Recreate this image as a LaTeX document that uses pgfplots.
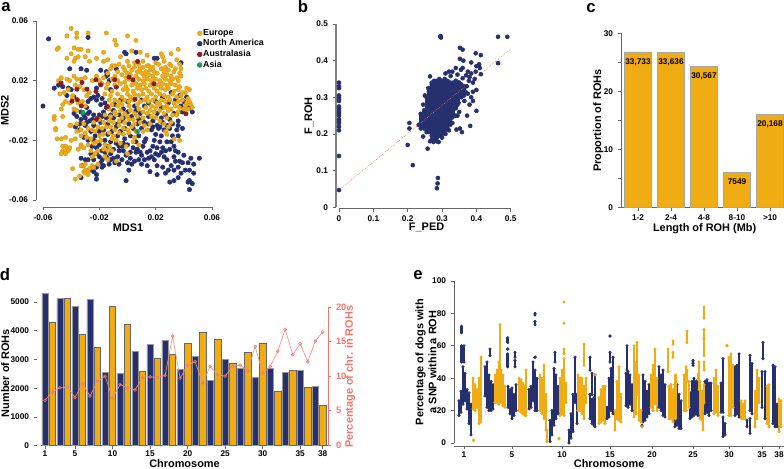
\documentclass[border=0pt]{standalone}
\usepackage{fontspec}
\setmainfont{Liberation Sans}
\usepackage{pgfplots}
\pgfplotsset{compat=1.18}
\usepackage{pgfplotstable}

\definecolor{navy}{HTML}{27306F}
\definecolor{gold}{HTML}{EFAC13}
\definecolor{salmon}{HTML}{F4746C}
\definecolor{wine}{HTML}{8E1B20}
\definecolor{leaf}{HTML}{1F9A55}
\definecolor{spine}{HTML}{666666}

\newcommand{\ticksz}{\bfseries\fontsize{6.2}{7}\selectfont}
\newcommand{\labsz}{\bfseries\fontsize{8.2}{9.6}\selectfont}

\pgfplotsset{
  panel/.style={
    scale only axis, clip=false,
    axis x line*=bottom, axis y line*=left,
    axis line style={spine, line width=.7pt},
    tick style={spine, line width=.6pt},
    tick align=outside, major tick length=2.5pt, minor tick length=2pt,
    tick label style={font=\ticksz, black},
    /pgf/number format/assume math mode=true,
    /pgf/number format/1000 sep={},
    xlabel style={font=\labsz, anchor=center},
    ylabel style={font=\labsz, anchor=center},
    xtick pos=lower, ytick pos=left,
    xticklabel style={yshift=0.5pt},
  },
  strand/.style={only marks, mark=*, mark size=.95pt, forget plot, #1, mark options={draw=#1, fill=#1},
    error bars/.cd, y dir=plus, y explicit, error mark=*,
    error mark options={draw=#1, fill=#1, mark size=.95pt},
    error bar style={draw=#1, line width=2pt}},
  blob/.style={only marks, mark=*, mark size=1.5pt, forget plot, #1, mark options={draw=#1, fill=#1},
    error bars/.cd, y dir=plus, y explicit, error mark=*,
    error mark options={draw=#1, fill=#1, mark size=1.5pt},
    error bar style={draw=#1, line width=2.7pt}},
}

% panel e: runs of SNPs read as position (along genome), lowest and highest %
\pgfplotstableread{
x lo hi
459 17 26
461 19 32
461.5 50 60
461.5 68 72
463 24 47
464 50 60
465 26 43
467 21 33
469 12 31
471 5 24
485 29 47
487 22 50
489 20 42
490 54 58
491 20 38
493 21 36
508 22 35
507.7 47 55
507.7 58 58
507.7 62 65
510 18 33
512 15 34
514 17 30
515 47 51
515 53 56
516 20 36
529 21 33
531 22 35
533 26 50
535 20 45
535 53 53
535 73 75
535 79 80
537 20 40
550 1 14
552 5 20
554 11 46
556 15 42
555 50 56
558 18 35
569 0 8
571 3 18
573 7 30
575 25 53
577 12 30
590 15 30
590 45 53
592 12 27
592 30 43
594 11 28
595 10 42
607 15 22
609 16 40
610 66 66
610 50 56
611 20 46
613 18 53
626 23 43
627 45 60
628 22 44
630 24 42
632 20 36
642 10 11
643 13 42
645 14 38
647 16 32
649 18 36
659 22 47
661 20 42
663 17 45
665 16 36
675 10 36
677 11 36
679 9 30
681 9 26
690 15 31
692 16 38
693 50 51
693 48 49
694 17 40
696 18 38
698 17 39
705 18 38
707 19 39
709 17 37
711 20 37
721 19 37
723 19 52
723 4 16
725 5 12
735 17 47
737 18 48
739 16 55
747 10 14
750 20 54
752 18 49
750 6 15
762 22 44
763 52 62
765 15 44
773 12 48
775 10 47
777 10 24
}\navystrands

\pgfplotstableread{
x lo hi
473 21 40
475 20 36
477 22 33
479 12 40
481 13 53
495 25 42
497 25 45
499 24 50
500 43 73
501 25 45
503 23 42
505 22 35
519 20 40
521 19 39
523 18 37
525 17 35
526 17 45
540 20 42
542 18 40
544 15 48
546 8 30
547 1 8
560 17 40
562 18 45
564 17 52
564 55 58
566 25 37
578 20 42
580 20 40
582 18 40
584 15 35
584 48 61
586 25 40
599 12 28
601 13 33
603 14 35
605 12 35
615 8 20
617 15 38
619 14 47
621 13 30
634 16 60
636 18 50
637 30 62
639 14 42
641 13 20
651 22 42
653 20 48
655 24 58
657 20 40
668 44 58
669 15 35
671 15 36
673 13 33
675.5 15 42
673 61 63
673 53 56
684 20 42
686 20 47
687 62 69
687 38 45
689 22 38
698.7 39 43
699 33 50
700 15 38
702 14 32
703 8 24
704 25 36
704 45 50
704 54 64
704 65 70
704 77 84
714 18 40
716 19 45
718 17 35
727 60 60
729 17 53
731 17 55
733 22 48
741 15 26
743 15 24
745 15 26
755 10 32
757 15 45
759 25 40
767 12 35
769 10 36
779 7 27
781 10 26
}\goldstrands

% points that stand apart from the runs
\pgfplotstableread{
x y
473.5 1.5
473.5 1.8
547 2
559 2.5
559 3
564 74
564 87
642 10
727 60
595 42
}\goldsingles

% panel b: the dense cloud, as columns x, lowest, highest F_ROH
\pgfplotstableread{
x lo hi
.238 .215 .255
.248 .215 .265
.255 .205 .30
.262 .205 .315
.27 .195 .335
.277 .195 .345
.285 .19 .345
.292 .195 .35
.30 .20 .345
.308 .205 .35
.316 .215 .345
.324 .225 .34
.332 .25 .34
.34 .27 .345
.348 .285 .34
.356 .30 .335
.364 .305 .33
}\cloud

\begin{document}
\begin{tikzpicture}
\path[use as bounding box] (0,0) rectangle (588pt,351pt);

% ---------- a
\begin{axis}[panel, at={(32.25pt,201pt)}, anchor=south west, width=126.75pt, height=134.25pt,
  xmin=-60, xmax=60, ymin=-60, ymax=60,
  axis x line shift=5.25pt, axis y line shift=5.25pt,
  xtick={-60,-20,20,60}, xticklabels={-0.06,-0.02,0.02,0.06},
  ytick={-60,-20,20,60}, yticklabels={-0.06,-0.02,0.02,0.06},
  xlabel={MDS1}, ylabel={MDS2},
  xlabel style={at={(axis description cs:.503,-.156)}},
  ylabel style={at={(axis description cs:-.225,.5)}},
  legend cell align=left,
  legend image code/.code={\draw[#1] plot coordinates {(1.5pt,0pt)};},
  legend style={at={(axis cs:49.4,55)}, anchor=north west, draw=none, fill=none,
    font=\bfseries\fontsize{6.6}{7.5}\selectfont, inner sep=0pt,
    nodes={inner ysep=.4pt, inner xsep=.8pt}, row sep=.9pt},
]
\addlegendimage{only marks, mark=*, mark size=1.8pt, gold, mark options={draw=gold}}
\addlegendentry{Europe}
\addlegendimage{only marks, mark=*, mark size=1.8pt, navy}
\addlegendentry{North America}
\addlegendimage{only marks, mark=*, mark size=1.8pt, wine}
\addlegendentry{Australasia}
\addlegendimage{only marks, mark=*, mark size=1.8pt, leaf}
\addlegendentry{Asia}
% North America
\addplot[forget plot, only marks, mark=*, mark size=1.65pt, navy] coordinates {
(-56,48)(-60,3)(-28,49)(-2,39)(-1,38)(6,39)(19,35)(21,35)(38,32)(-41,28)(-33,28)(-29,27)(-19,27)(-15,23)(-52,15)
(-49,17)(-46,16)(-42,15)(-40,14)(-43,10)(-38,9)(-24,9)(-21,10)(-18,8)(-16,5)(-15,2)(-17,-1)(-20,-3)(-24,-3)(-27,-1)
(-29,2)(-28,6)(-26,8)(-22,7)(-19,4)(-14,24)(-13,20)(-15,26)(-8,28)(-19,18)(-22,15)(-12,14)(-30,-5)(-33,-6)(-34,-9)
(-30,-10)(-27,-7)(-24,-10)(-22,-6)(-19,-8)(-15,-5)(-12,-3)(-10,0)(-6,-3)(-3,1)(0,-1)(3,-4)(6,0)(9,-2)(12,3)(15,-4)
(18,-7)(21,-2)(24,-5)(27,-3)(30,-6)(33,-2)(36,-7)(38,3)(34,7)(29,5)(24,2)(40,6)(42,9)(39,-1)(32,-9)(28,-10)
(26,-13)(24,-17)(23,-21)(21,-25)(20,-29)(19,-33)(22,-12)(20,-16)(19,-20)(18,-24)(16,-27)(17,-13)(15,-9)(12,-8)
(10,-12)(8,-17)(6,-21)(4,-25)(2,-28)(0,-23)(-2,-19)(-4,-24)(-6,-27)(-8,-22)(-10,-26)(-12,-29)(-14,-24)(-16,-20)
(-18,-27)(-20,-31)(-22,-25)(-24,-33)(-26,-29)(-28,-33)(-30,-33)(-33,-32)(-26,-14)(-23,-17)(-20,-14)(-17,-13)
(-14,-16)(-11,-14)(-8,-11)(-5,-14)(-2,-12)(1,-9)(4,-12)(7,-9)(-7,-31)(-4,-33)(-1,-30)(2,-32)(3,-36)(-12,-33)
(-15,-31)(-18,-33)(-9,-35)(-6,-36)(-1,-47)(-22,-38)(-24,-41)(-22,-43)(-22,-46)(-33,-45)(-32,-37)(-27,-40)
(10,-30)(12,-33)(14,-28)(8,-33)(5,-34)(10,-36)(14,-37)(15,-32)(16,-41)(21,-37)(21,-43)(25,-38)(27,-42)(29,-40)
(33,-40)(36,-38)(31,-37)(34,-34)(37,-34)(30,-48)(33,-47)(36,-45)(38,-42)(41,-40)(43,-35)(44,-40)(44,-47)(46,-49)
(44,-53)(43,-48)(47,-36)(47,-42)(51,-32)(45,-32)(40,-30)(36,-28)(33,-31)(39,-35)(28,-21)(33,-24)(36,-17)
(39,-12)(27,-27)(30,-26)(28,-33)(32,-17)(25,-25)(36,-10)(-36,-4)(-38,-2)(-33,-1)(-4,-7)(2,-17)(-7,-17)(-12,-21)
(-3,-27)(6,-28)(-28,-20)(-31,-18)(-25,-24)(-37,-11)(-34,-13)(-9,4)(-5,7)(0,6)(5,3)(10,7)(15,5)(20,6)(25,9)(31,12)
(44,2)(46,-1)(37,10)(21,-10)(25,-8)(30,-12)(13,-19)(11,-24)(9,-28)(17,-31)(-18,-38)(-17,-37)(-16,-28)(1,-40)
(-13,-36)(-6,-24)(-10,-32)(-3,-22)(0,-35)(7,-26)(12,-21)(22,-30)(24,-28)(26,-31)(-20,-23)(-24,-20)(-22,-29)(-19,-35)
(-28,-2)(-25,-6)(-31,-3)(-29,-8)(-18,-4)(-14,-9)(-10,-5)(-7,-9)(-3,-5)(8,-6)(18,-11)(23,-11)(35,-13)(31,-21)(34,-27)
};
% Europe
\addplot[forget plot, only marks, mark=*, mark size=1.65pt, gold, mark options={draw=gold!85!black, line width=.2pt}] coordinates {
(-40,55)(-36,52)(-43,50)(-36,49)(-28,52)(-15,52)(0,50)(6,47)(-9,47)(-8,44)(-49,42)(-50,41)(-38,42)(-35,41)(-33,41)
(-40,38)(-28,40)(-17,39)(3,40)(9,39)(14,37)(24,38)(25,36)(31,38)(36,41)(-43,35)(-37,35)(-35,36)(-38,33)(-30,36)
(-27,33)(-22,35)(-17,33)(-14,34)(-11,30)(-5,36)(0,33)(5,32)(11,33)(15,30)(20,32)(26,33)(30,31)(35,34)(38,28)
(-47,22)(-49,20)(-43,21)(-41,20)(-38,23)(-36,21)(-33,21)(-30,22)(-25,20)(-22,23)(-18,18)(-37,17)(-34,16)(-45,12)
(-42,14)(-48,11)(-39,10)(-31,14)(-29,10)(-27,12)(-44,6)(-41,5)(-39,8)(-35,5)(-32,6)(-46,4)(-47,1)(-38,1)(-36,0)
(-30,3)(-52,-4)(-52,-6)(-46,-4)(-51,-12)(-51,-13)(-41,-10)(-40,-10)(-36,-9)(-33,-13)(-50,-19)(-47,-19)(-44,-18)
(-37,-19)(-33,-17)(-46,-24)(-44,-24)(-43,-25)(-41,-25)(-46,-27)(-44,-27)(-42,-27)(-40,-20)(-47,-29)(-44,-29)
(-33,-23)(-33,-24)(-31,-25)(-28,-23)(-35,-26)(-39,-39)(-33,-37)(-31,-37)(-30,-36)(-27,-39)(-31,-41)(-30,-40)
(-28,-41)(-30,-42)(-28,-43)(-37,-46)(-34,-44)(-25,-37)(-24,-38)(-21,-36)(-16,-31)
(-9,30)(-6,31)(-3,29)(1,30)(5,29)(8,31)(11,29)(14,30)(18,29)(22,31)(27,29)(31,30)(34,28)(37,31)
(-12,28)(-7,26)(-2,27)(0,25)(3,27)(7,26)(9,28)(13,26)(16,27)(19,26)(24,28)(26,26)(29,27)(33,26)(37,25)
(-14,25)(-9,23)(-4,24)(-1,22)(2,24)(6,23)(10,25)(12,23)(15,24)(18,23)(21,25)(25,23)(28,24)(31,23)(35,22)(38,23)
(-17,22)(-11,21)(-7,20)(-2,19)(1,21)(4,20)(8,21)(11,20)(14,21)(17,20)(20,21)(23,20)(27,21)(30,20)(32,21)(36,20)
(-20,20)(-14,18)(-9,17)(-5,18)(-1,16)(3,17)(6,18)(9,17)(12,18)(16,17)(18,18)(22,17)(25,18)(28,17)(31,18)(34,17)(37,16)(42,15)(44,14)(41,12)
(-15,15)(-11,13)(-3,14)(0,14)(4,13)(7,15)(10,14)(13,15)(15,13)(19,15)(21,13)(24,15)(27,14)(29,15)(33,13)(36,14)(39,12)
(-16,11)(-12,10)(-7,11)(-4,9)(0,11)(2,9)(5,11)(8,10)(11,11)(14,9)(17,11)(20,9)(23,11)(26,10)(29,9)(32,11)(35,9)(38,10)(43,8)
(-13,7)(-9,7)(-6,6)(-2,7)(1,6)(4,7)(9,6)(12,7)(15,6)(18,7)(21,5)(24,7)(27,6)(30,7)(33,5)(36,6)(39,7)(42,5)(45,4)(44,6)
(-11,4)(-7,3)(-4,4)(1,3)(7,4)(13,2)(17,3)(20,2)(23,4)(26,2)(28,3)(31,1)(34,3)(37,2)(41,3)(46,2)(43,1)(36,-1)(40,1)
(-13,1)(-9,-1)(-5,0)(-2,-2)(2,0)(5,-2)(8,1)(11,-1)(16,0)(19,-1)(23,0)(26,-2)(29,0)(32,-3)(35,-3)
(-16,-3)(-12,-4)(-8,-3)(-4,-5)(0,-4)(4,-6)(7,-4)(11,-5)(14,-2)(17,-4)(20,-5)(23,-7)(28,-5)(31,-8)
(-20,-6)(-17,-8)(-13,-7)(-10,-8)(-6,-7)(-2,-8)(1,-6)(5,-9)(9,-8)(12,-10)(16,-9)(26,-9)(29,-11)
(-24,-8)(-21,-11)(-18,-12)(-15,-11)(-12,-11)(-9,-13)(-6,-10)(-3,-12)(0,-13)(3,-11)(6,-14)(11,-14)(14,-13)
(-25,-13)(-23,-14)(-20,-17)(-17,-16)(-13,-15)(-10,-17)(-6,-15)(-3,-16)(1,-15)(5,-18)
(-22,-21)(-19,-20)(-16,-23)(-13,-24)(-11,-19)(-8,-20)(-5,-22)(-1,-24)(4,-21)(-17,-26)(-21,-27)(-11,-27)(-14,-27)
(-30,-15)(-28,-12)(-31,-9)(-29,-18)(-26,-19)(-24,-22)(-26,-27)(-36,-14)(27,-14)(28,-16)(33,-19)(37,-20)(8,-23)(-14,-33)(-8,-34)(0,-29)(-25,-31)(-23,-29)
};
% Australasia
\addplot[forget plot, only marks, mark=*, mark size=1.65pt, wine] coordinates {
(-47.2,18.4)(-39.4,6.3)(-35.9,14.3)(-35.6,7.2)(-32.3,18.8)(-32.8,3.1)(-28.8,14.3)(-22.4,20.6)(-22.4,12.8)(-21.7,-5.4)
(-19,17.2)(-14.3,2.7)(-9.1,20.6)(-7.9,15.7)(1.1,22.4)(3.9,20.6)(5.3,7.6)(7.2,32.9)(18.8,17.9)(41.5,-2.2)
};
% Asia
\addplot[forget plot, only marks, mark=*, mark size=1.65pt, leaf] coordinates {(-31.6,-1.3)(7,-14.1)};
\end{axis}
\node[font=\bfseries\fontsize{12.5}{13}\selectfont, anchor=center] at (4.5pt,345.75pt) {a};

% ---------- b
\begin{axis}[panel, at={(254.25pt,195.525pt)}, anchor=south west, width=128.8pt, height=137.5pt,
  xmin=0, xmax=.5, ymin=0, ymax=.5,
  axis x line shift=1pt, axis y line shift=2.25pt,
  xtick={0,.1,.2,.3,.4,.5}, ytick={0,.1,.2,.3,.4,.5},
  xlabel={F\_PED}, ylabel={F\_ROH},
  xlabel style={at={(axis description cs:.51,-.111)}},
  ylabel style={at={(axis description cs:-.175,.498)}},
  y axis line style={line width=1.2pt, gray},
]
\addplot[blob=navy] table[x=x, y=lo, y error expr=\thisrow{hi}-\thisrow{lo}] {\cloud};
\addplot[only marks, mark=*, mark size=1.5pt, navy] coordinates {
(0,.34)(0,.33)(0,.325)(0,.305)(0,.30)(0,.295)(0,.29)(0,.275)(0,.27)(0,.265)(0,.26)(0,.255)(0,.25)(0,.24)(0,.235)(0,.23)
(0,.22)(0,.21)(0,.14)(0,.047)(.2,.17)(.205,.23)(.205,.215)(.215,.115)(.258,.16)(.285,.052)(.287,.065)(.288,.08)
(.295,.465)(.296,.467)(.297,.463)(.463,.465)(.49,.465)(.463,.393)(.413,.415)(.398,.42)(.352,.435)(.36,.43)(.352,.405)
(.362,.4)(.385,.395)(.40,.385)(.408,.39)(.413,.363)(.398,.37)(.40,.263)(.382,.222)(.373,.25)(.358,.205)(.352,.215)
(.342,.212)(.245,.193)(.265,.357)(.27,.34)(.232,.225)(.24,.25)(.245,.28)(.25,.305)(.26,.325)(.28,.185)(.275,.178)
(.285,.18)(.29,.178)(.265,.18)(.27,.185)(.30,.19)(.31,.20)(.33,.23)(.345,.25)(.35,.26)(.365,.29)(.38,.28)(.385,.30)
(.39,.29)(.39,.315)(.40,.32)(.375,.37)(.385,.365)(.395,.35)(.41,.38)(.33,.37)(.34,.38)(.31,.365)(.32,.37)
(.36,.38)(.355,.375)(.37,.36)(.35,.34)(.345,.28)(.34,.25)(.33,.245)(.32,.21)(.325,.358)(.345,.362)(.36,.352)(.378,.345)
(.372,.33)(.38,.355)(.39,.34)(.368,.315)(.375,.31)
};
\addplot[salmon, densely dotted, line width=.5pt] coordinates {(0,.047)(.5,.432)};
\end{axis}
\node[font=\bfseries\fontsize{12.5}{13}\selectfont, anchor=center] at (227.25pt,345.75pt) {b};

% ---------- c
\begin{axis}[panel, at={(465.75pt,195.525pt)}, anchor=south west, width=122.25pt, height=130.5pt,
  xmin=-.515, xmax=4.424, ymin=0, ymax=30,
  ybar, bar shift=0pt, bar width=.83,
  xtick={0,1,2,3,4}, xticklabels={1-2,2-4,4-8,8-10,>10},
  ytick={0,10,20,30}, minor y tick num=1,
  xlabel={Length of ROH (Mb)}, ylabel={Proportion of ROHs},
  xlabel style={at={(axis description cs:.513,-.121)}},
  ylabel style={at={(axis description cs:-.139,.498)}},
  nodes near coords, point meta=explicit symbolic,
  nodes near coords align={below},
  nodes near coords style={font=\ticksz, black, yshift=-1.5pt},
]
\addplot[fill=gold, draw=gray!70, line width=.4pt] table[x=x, y=y, meta=n] {
x y n
0 26.8 33,733
1 26.7 33,636
2 24.3 30,567
3 6.0 7549
4 16.0 20,168
};
\end{axis}
\node[font=\bfseries\fontsize{12.5}{13}\selectfont, anchor=center] at (443.25pt,345pt) {c};

% ---------- d
\begin{axis}[panel, at={(30.75pt,16.725pt)}, anchor=south west, width=215.25pt, height=114.2pt,
  xmin=.47, xmax=38.7, ymin=0, ymax=5300,
  ybar, bar shift=0pt, bar width=.84,
  xtick={1,5,10,15,20,25,30,35,38}, ytick={0,1000,2000,3000,4000,5000},
  xticklabel style={yshift=1.5pt},
  axis y line shift=3pt, y axis line style={draw=none},
  xlabel={Chromosome}, ylabel={Number of ROHs},
  xlabel style={at={(axis description cs:.5,-.115)}},
  ylabel style={at={(axis description cs:-.125,.477)}},
]
\addplot[fill=navy, draw=gray!80, line width=.4pt] coordinates {
(1,5300)(3,5128)(5,4850)(7,5093)(9,2552)(11,2529)(13,3283)(15,3515)(17,3677)(19,2657)
(21,3120)(23,2274)(25,2993)(27,2703)(29,2367)(31,2703)(33,2541)(35,2633)(37,2077)};
\addplot[fill=gold, draw=gray!80!black, line width=.4pt] coordinates {
(2,4292)(4,5128)(6,3886)(8,3422)(10,4850)(12,4223)(14,2600)(16,3039)(18,3167)(20,3561)
(22,3933)(24,3700)(26,2865)(28,3237)(30,3550)(32,1891)(34,2622)(36,2030)(38,1404)};
\end{axis}
\begin{axis}[panel, at={(30.75pt,17.25pt)}, anchor=south west, width=215.25pt, height=103.3pt,
  xmin=.47, xmax=38.7, ymin=0, ymax=20,
  axis x line=none, axis y line*=right, ytick pos=right,
  ytick={0,5,10,15,20},
  y axis line style={salmon}, ytick style={salmon},
  yticklabel style={salmon, font=\bfseries\fontsize{7}{8}\selectfont},
  ylabel={Percentage of chr. in ROHs},
  ylabel style={at={(axis description cs:1.077,.496)}, salmon, rotate=0},
]
\addplot[salmon!80, line width=.5pt, mark=o, mark size=1.1pt, mark options={salmon, line width=.4pt}] coordinates {
(1,6.5)(2,7.7)(3,8.3)(4,8.4)(5,6.9)(6,8.9)(7,7.1)(8,9.3)(9,10.0)(10,6.8)(11,8.8)(12,8.3)(13,8.0)
(14,9.8)(15,9.9)(16,9.8)(17,10.1)(18,15.8)(19,9.7)(20,11.6)(21,12.1)(22,9.0)(23,11.4)(24,10.2)(25,10.0)
(26,11.4)(27,11.6)(28,10.8)(29,14.3)(30,10.4)(31,11.4)(32,13.6)(33,16.8)(34,13.1)(35,14.7)(36,12.1)(37,15.1)(38,16.4)};
\end{axis}
\node[font=\bfseries\fontsize{12.5}{13}\selectfont, anchor=center] at (3.75pt,144.75pt) {d};

% ---------- e
\begin{axis}[panel, at={(340.5pt,18.75pt)}, anchor=south west, width=247.5pt, height=121.5pt,
  xmin=454, xmax=784, ymin=0, ymax=100,
  axis x line shift=2.25pt,
  xtick={464,512,562,610,652,693,729,762,779}, xticklabels={1,5,10,15,20,25,30,35,38},
  xticklabel style={yshift=1.5pt},
  ytick={0,20,40,60,80,100},
  xlabel={Chromosome},
  ylabel={Percentage of dogs with\\a SNP within a ROH},
  xlabel style={at={(axis description cs:.47,-.125)}},
  ylabel style={at={(axis description cs:-.085,.5)}, align=center},
]
\addplot[strand=navy] table[x=x, y=lo, y error expr=\thisrow{hi}-\thisrow{lo}] {\navystrands};
\addplot[strand=gold] table[x=x, y=lo, y error expr=\thisrow{hi}-\thisrow{lo}] {\goldstrands};
\addplot[only marks, mark=*, mark size=.95pt, gold, forget plot] table[x=x, y=y] {\goldsingles};
\end{axis}
\node[font=\bfseries\fontsize{12.5}{13}\selectfont, anchor=center] at (313.5pt,144.75pt) {e};
\end{tikzpicture}
\end{document}
